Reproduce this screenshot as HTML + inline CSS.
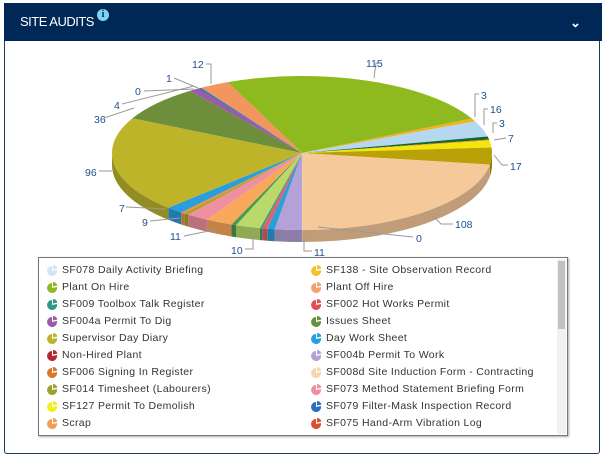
<!DOCTYPE html>
<html><head><meta charset="utf-8"><style>
body{margin:0;width:605px;height:458px;background:#fff;font-family:"Liberation Sans",sans-serif;overflow:hidden;position:relative}
.panel{position:absolute;left:4px;top:3px;width:596px;height:451px;border:1px solid #1c3a5c;border-radius:3px;box-sizing:border-box}
.hdr{position:absolute;left:4px;top:3px;width:598px;height:38px;background:#002856}
.hdr .t{position:absolute;left:16px;top:11px;color:#fff;font-size:13px;letter-spacing:-0.5px}
.info{position:absolute;left:93px;top:6px;width:12px;height:12px;border-radius:50%;background:#7fd3ec;color:#002856;font:bold 10px "Liberation Serif",serif;text-align:center;line-height:12px}
.chev{position:absolute;left:566px;top:12px;color:#fff;font-size:13px;font-weight:bold}
.lab{position:absolute;font-size:10.5px;color:#1e5090}
.leg{position:absolute;left:38px;top:257px;width:530px;height:179px;border:1px solid #777;box-sizing:border-box;box-shadow:1px 1px 2px #aaa}
.sb{position:absolute;right:1px;top:1px;width:9px;height:175px;background:#f1f1f1}
.sb div{position:absolute;left:1px;top:2px;width:7px;height:68px;background:#c1c1c1}
.it{position:absolute;font-size:10.5px;color:#333;letter-spacing:0.35px;white-space:nowrap}
</style></head><body>
<div class="panel"></div>
<div class="hdr"><span class="t">SITE AUDITS</span><span class="info">i</span><span class="chev">&#8964;</span></div>
<svg id="pie" width="605" height="458" style="position:absolute;left:0;top:0"></svg>
<div class="lab" style="left:192px;top:59px">12</div>
<div class="lab" style="left:366px;top:58px">115</div>
<div class="lab" style="left:166px;top:73px">1</div>
<div class="lab" style="left:135px;top:86px">0</div>
<div class="lab" style="left:114px;top:100px">4</div>
<div class="lab" style="left:94px;top:114px">36</div>
<div class="lab" style="left:85px;top:167px">96</div>
<div class="lab" style="left:119px;top:203px">7</div>
<div class="lab" style="left:142px;top:217px">9</div>
<div class="lab" style="left:170px;top:231px">11</div>
<div class="lab" style="left:231px;top:245px">10</div>
<div class="lab" style="left:314px;top:247px">11</div>
<div class="lab" style="left:416px;top:233px">0</div>
<div class="lab" style="left:455px;top:219px">108</div>
<div class="lab" style="left:510px;top:161px">17</div>
<div class="lab" style="left:508px;top:133px">7</div>
<div class="lab" style="left:499px;top:118px">3</div>
<div class="lab" style="left:490px;top:104px">16</div>
<div class="lab" style="left:481px;top:90px">3</div>
<div class="leg"><div class="sb"><div></div></div></div>
<svg id="lg" width="605" height="458" style="position:absolute;left:0;top:0"></svg>
<div id="items"></div>
<script>
var cx=302,cy=153,rx=190,ry=77,D=12;
var data=[[115,'#8fba1f'],[3,'#f2b21c'],[16,'#b5d7ef'],[3,'#0d6a2a'],[1,'#f08a20'],[7,'#f2e60a'],[17,'#b9a108'],[108,'#f6c99a'],[0.3,'#f6c99a'],[11,'#b3a1d8'],[3,'#2a9fd8'],[2,'#e06070'],[1,'#3aa070'],[10,'#b9d96a'],[2,'#4a9a50'],[11,'#f7a85a'],[9,'#ef8fa0'],[2,'#b0a020'],[1.5,'#f09040'],[7,'#2a9ddd'],[96,'#bdb42a'],[36,'#6d8f3b'],[4,'#9a5ba8'],[0.5,'#555'],[1,'#2a7ad0'],[12,'#f2955e']];
var tot=0;data.forEach(d=>tot+=d[0]);
function P(a,dy){a=a*Math.PI/180;return [cx+rx*Math.cos(a),cy+ry*Math.sin(a)+(dy||0)]}
function shade(c,f){var n=parseInt(c.slice(1),16),r=n>>16,g=n>>8&255,b=n&255;return 'rgb('+[r,g,b].map(v=>Math.round(v*f)).join(',')+')'}
var s='',t='',a=-113;
data.forEach(d=>{var b=a+d[0]*360/tot;
 [[a,b],[a-360,b-360],[a+360,b+360]].forEach(r=>{var l=Math.max(r[0],0),h=Math.min(r[1],180);if(h>l){var p1=P(l),p2=P(h),p3=P(h,D),p4=P(l,D);
 s+='<path d="M'+p1+' A'+rx+' '+ry+' 0 0 1 '+p2+' L'+p3+' A'+rx+' '+ry+' 0 0 0 '+p4+'Z" fill="'+shade(d[1],0.78)+'"/>';}});
 var q1=P(a),q2=P(b);
 t+='<path d="M'+cx+' '+cy+' L'+q1+' A'+rx+' '+ry+' 0 '+((b-a)>180?1:0)+' 1 '+q2+'Z" fill="'+d[1]+'"/>';
 a=b;});
var lines='<g stroke="#999" fill="none" stroke-width="1"><path d="M206,64 h5 v20"/><path d="M382,63 h-6 l-2,15"/><path d="M174,78 l24,10"/><path d="M144,91 l50,-2"/><path d="M122,104 l72,-18"/><path d="M104,118 l30,-10"/><path d="M99,171 l13,0"/><path d="M126,207 l40,2"/><path d="M150,221 l30,-3"/><path d="M184,236 l30,-6"/><path d="M245,249 h8 v-16"/><path d="M312,251 h-8 v-14"/><path d="M413,237 l-95,-10"/><path d="M453,224 h-12 l-8,-8"/><path d="M508,165 h-6 l-8,-10"/><path d="M506,138 l-12,2"/><path d="M497,123 h-4 v10"/><path d="M488,109 h-4 v16"/><path d="M479,94 h-4 v23"/></g>';
document.getElementById('pie').innerHTML=s+t+lines;
var L=[['SF078 Daily Activity Briefing','#cfe6f5'],['Plant On Hire','#8fba1f'],['SF009 Toolbox Talk Register','#2a9a8a'],['SF004a Permit To Dig','#9a5ba8'],['Supervisor Day Diary','#bdb42a'],['Non-Hired Plant','#b02a30'],['SF006 Signing In Register','#d9772a'],['SF014 Timesheet (Labourers)','#a0a030'],['SF127 Permit To Demolish','#f2ee20'],['Scrap','#f0a050']];
var R=[['SF138 - Site Observation Record','#f5c030'],['Plant Off Hire','#f2a070'],['SF002 Hot Works Permit','#e05050'],['Issues Sheet','#6d8f3b'],['Day Work Sheet','#2a9ddd'],['SF004b Permit To Work','#b3a1d8'],['SF008d Site Induction Form - Contracting','#f8d4b0'],['SF073 Method Statement Briefing Form','#ef8fa0'],['SF079 Filter-Mask Inspection Record','#2a70c0'],['SF075 Hand-Arm Vibration Log','#d9502a']];
var g='',h='';
function ic(x,y,c){return '<path d="M'+x+' '+y+' L'+(x+5)+' '+(y-1)+' A5 5 0 1 1 '+x+' '+(y-5)+' Z" fill="'+c+'"/><path d="M'+(x+1)+' '+(y-1.5)+' L'+(x+1)+' '+(y-6)+' A5 5 0 0 1 '+(x+5.5)+' '+(y-2.5)+' Z" fill="'+c+'"/>';}
for(var i=0;i<10;i++){var y=270+i*17;
 g+=ic(52,y+1,L[i][1])+ic(316,y+1,R[i][1]);
 h+='<div class="it" style="left:62px;top:'+(y-6)+'px">'+L[i][0]+'</div><div class="it" style="left:326px;top:'+(y-6)+'px">'+R[i][0]+'</div>';}
document.getElementById('lg').innerHTML=g;
document.getElementById('items').innerHTML=h;
</script>
</body></html>
